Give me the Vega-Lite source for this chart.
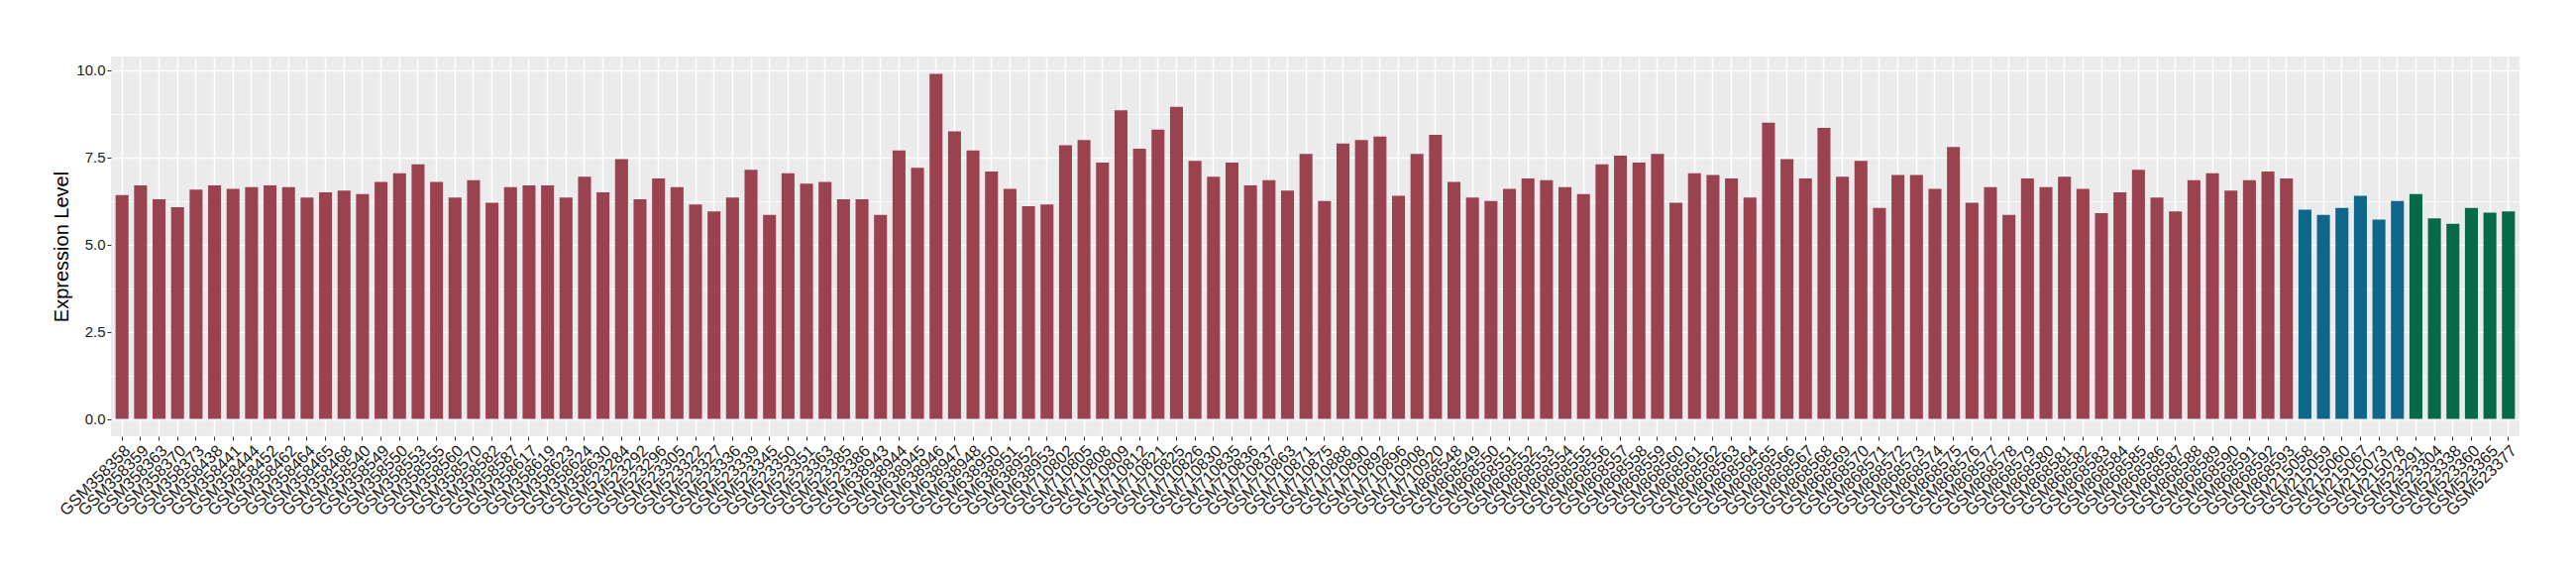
{
 "$schema": "https://vega.github.io/schema/vega-lite/v6.json",
 "width": 2431,
 "height": 383,
 "autosize": {"type": "none"},
 "padding": {"left": 112, "top": 57, "right": 57, "bottom": 140},
 "background": "white",
 "config": {"view": {"fill": "#EBEBEB", "stroke": null}, "font": "Liberation Sans"},
 "data": {"values": [
  {"sample": "GSM358358", "expression": 6.42, "group": "A"},
  {"sample": "GSM358359", "expression": 6.70, "group": "A"},
  {"sample": "GSM358363", "expression": 6.30, "group": "A"},
  {"sample": "GSM358370", "expression": 6.07, "group": "A"},
  {"sample": "GSM358373", "expression": 6.58, "group": "A"},
  {"sample": "GSM358438", "expression": 6.70, "group": "A"},
  {"sample": "GSM358441", "expression": 6.60, "group": "A"},
  {"sample": "GSM358444", "expression": 6.65, "group": "A"},
  {"sample": "GSM358452", "expression": 6.70, "group": "A"},
  {"sample": "GSM358462", "expression": 6.65, "group": "A"},
  {"sample": "GSM358464", "expression": 6.35, "group": "A"},
  {"sample": "GSM358465", "expression": 6.50, "group": "A"},
  {"sample": "GSM358468", "expression": 6.55, "group": "A"},
  {"sample": "GSM358540", "expression": 6.45, "group": "A"},
  {"sample": "GSM358549", "expression": 6.80, "group": "A"},
  {"sample": "GSM358550", "expression": 7.05, "group": "A"},
  {"sample": "GSM358553", "expression": 7.30, "group": "A"},
  {"sample": "GSM358555", "expression": 6.80, "group": "A"},
  {"sample": "GSM358560", "expression": 6.35, "group": "A"},
  {"sample": "GSM358570", "expression": 6.85, "group": "A"},
  {"sample": "GSM358582", "expression": 6.20, "group": "A"},
  {"sample": "GSM358587", "expression": 6.65, "group": "A"},
  {"sample": "GSM358617", "expression": 6.70, "group": "A"},
  {"sample": "GSM358619", "expression": 6.70, "group": "A"},
  {"sample": "GSM358623", "expression": 6.35, "group": "A"},
  {"sample": "GSM358624", "expression": 6.95, "group": "A"},
  {"sample": "GSM358630", "expression": 6.50, "group": "A"},
  {"sample": "GSM523284", "expression": 7.45, "group": "A"},
  {"sample": "GSM523292", "expression": 6.30, "group": "A"},
  {"sample": "GSM523296", "expression": 6.90, "group": "A"},
  {"sample": "GSM523305", "expression": 6.65, "group": "A"},
  {"sample": "GSM523322", "expression": 6.15, "group": "A"},
  {"sample": "GSM523327", "expression": 5.95, "group": "A"},
  {"sample": "GSM523336", "expression": 6.35, "group": "A"},
  {"sample": "GSM523339", "expression": 7.15, "group": "A"},
  {"sample": "GSM523345", "expression": 5.85, "group": "A"},
  {"sample": "GSM523350", "expression": 7.05, "group": "A"},
  {"sample": "GSM523351", "expression": 6.75, "group": "A"},
  {"sample": "GSM523363", "expression": 6.80, "group": "A"},
  {"sample": "GSM523385", "expression": 6.30, "group": "A"},
  {"sample": "GSM523386", "expression": 6.30, "group": "A"},
  {"sample": "GSM638943", "expression": 5.85, "group": "A"},
  {"sample": "GSM638944", "expression": 7.70, "group": "A"},
  {"sample": "GSM638945", "expression": 7.20, "group": "A"},
  {"sample": "GSM638946", "expression": 9.90, "group": "A"},
  {"sample": "GSM638947", "expression": 8.25, "group": "A"},
  {"sample": "GSM638948", "expression": 7.70, "group": "A"},
  {"sample": "GSM638950", "expression": 7.10, "group": "A"},
  {"sample": "GSM638951", "expression": 6.60, "group": "A"},
  {"sample": "GSM638952", "expression": 6.10, "group": "A"},
  {"sample": "GSM638953", "expression": 6.15, "group": "A"},
  {"sample": "GSM710802", "expression": 7.85, "group": "A"},
  {"sample": "GSM710805", "expression": 8.00, "group": "A"},
  {"sample": "GSM710808", "expression": 7.35, "group": "A"},
  {"sample": "GSM710809", "expression": 8.85, "group": "A"},
  {"sample": "GSM710812", "expression": 7.75, "group": "A"},
  {"sample": "GSM710821", "expression": 8.30, "group": "A"},
  {"sample": "GSM710825", "expression": 8.95, "group": "A"},
  {"sample": "GSM710826", "expression": 7.40, "group": "A"},
  {"sample": "GSM710830", "expression": 6.95, "group": "A"},
  {"sample": "GSM710835", "expression": 7.35, "group": "A"},
  {"sample": "GSM710836", "expression": 6.70, "group": "A"},
  {"sample": "GSM710837", "expression": 6.85, "group": "A"},
  {"sample": "GSM710863", "expression": 6.55, "group": "A"},
  {"sample": "GSM710871", "expression": 7.60, "group": "A"},
  {"sample": "GSM710875", "expression": 6.25, "group": "A"},
  {"sample": "GSM710888", "expression": 7.90, "group": "A"},
  {"sample": "GSM710890", "expression": 8.00, "group": "A"},
  {"sample": "GSM710892", "expression": 8.10, "group": "A"},
  {"sample": "GSM710896", "expression": 6.40, "group": "A"},
  {"sample": "GSM710908", "expression": 7.60, "group": "A"},
  {"sample": "GSM710920", "expression": 8.15, "group": "A"},
  {"sample": "GSM868548", "expression": 6.80, "group": "A"},
  {"sample": "GSM868549", "expression": 6.35, "group": "A"},
  {"sample": "GSM868550", "expression": 6.25, "group": "A"},
  {"sample": "GSM868551", "expression": 6.60, "group": "A"},
  {"sample": "GSM868552", "expression": 6.90, "group": "A"},
  {"sample": "GSM868553", "expression": 6.85, "group": "A"},
  {"sample": "GSM868554", "expression": 6.65, "group": "A"},
  {"sample": "GSM868555", "expression": 6.45, "group": "A"},
  {"sample": "GSM868556", "expression": 7.30, "group": "A"},
  {"sample": "GSM868557", "expression": 7.55, "group": "A"},
  {"sample": "GSM868558", "expression": 7.35, "group": "A"},
  {"sample": "GSM868559", "expression": 7.60, "group": "A"},
  {"sample": "GSM868560", "expression": 6.20, "group": "A"},
  {"sample": "GSM868561", "expression": 7.05, "group": "A"},
  {"sample": "GSM868562", "expression": 7.00, "group": "A"},
  {"sample": "GSM868563", "expression": 6.90, "group": "A"},
  {"sample": "GSM868564", "expression": 6.35, "group": "A"},
  {"sample": "GSM868565", "expression": 8.50, "group": "A"},
  {"sample": "GSM868566", "expression": 7.45, "group": "A"},
  {"sample": "GSM868567", "expression": 6.90, "group": "A"},
  {"sample": "GSM868568", "expression": 8.35, "group": "A"},
  {"sample": "GSM868569", "expression": 6.95, "group": "A"},
  {"sample": "GSM868570", "expression": 7.40, "group": "A"},
  {"sample": "GSM868571", "expression": 6.05, "group": "A"},
  {"sample": "GSM868572", "expression": 7.00, "group": "A"},
  {"sample": "GSM868573", "expression": 7.00, "group": "A"},
  {"sample": "GSM868574", "expression": 6.60, "group": "A"},
  {"sample": "GSM868575", "expression": 7.80, "group": "A"},
  {"sample": "GSM868576", "expression": 6.20, "group": "A"},
  {"sample": "GSM868577", "expression": 6.65, "group": "A"},
  {"sample": "GSM868578", "expression": 5.85, "group": "A"},
  {"sample": "GSM868579", "expression": 6.90, "group": "A"},
  {"sample": "GSM868580", "expression": 6.65, "group": "A"},
  {"sample": "GSM868581", "expression": 6.95, "group": "A"},
  {"sample": "GSM868582", "expression": 6.60, "group": "A"},
  {"sample": "GSM868583", "expression": 5.90, "group": "A"},
  {"sample": "GSM868584", "expression": 6.50, "group": "A"},
  {"sample": "GSM868585", "expression": 7.15, "group": "A"},
  {"sample": "GSM868586", "expression": 6.35, "group": "A"},
  {"sample": "GSM868587", "expression": 5.95, "group": "A"},
  {"sample": "GSM868588", "expression": 6.85, "group": "A"},
  {"sample": "GSM868589", "expression": 7.05, "group": "A"},
  {"sample": "GSM868590", "expression": 6.55, "group": "A"},
  {"sample": "GSM868591", "expression": 6.85, "group": "A"},
  {"sample": "GSM868592", "expression": 7.10, "group": "A"},
  {"sample": "GSM868593", "expression": 6.90, "group": "A"},
  {"sample": "GSM215058", "expression": 6.00, "group": "B"},
  {"sample": "GSM215059", "expression": 5.85, "group": "B"},
  {"sample": "GSM215060", "expression": 6.05, "group": "B"},
  {"sample": "GSM215067", "expression": 6.40, "group": "B"},
  {"sample": "GSM215073", "expression": 5.72, "group": "B"},
  {"sample": "GSM215078", "expression": 6.25, "group": "B"},
  {"sample": "GSM523291", "expression": 6.45, "group": "C"},
  {"sample": "GSM523304", "expression": 5.75, "group": "C"},
  {"sample": "GSM523338", "expression": 5.60, "group": "C"},
  {"sample": "GSM523360", "expression": 6.05, "group": "C"},
  {"sample": "GSM523365", "expression": 5.92, "group": "C"},
  {"sample": "GSM523377", "expression": 5.95, "group": "C"}
 ]},
 "mark": {"type": "bar"},
 "encoding": {
  "x": {
   "field": "sample", "type": "nominal", "sort": null,
   "scale": {"paddingInner": 0.3, "paddingOuter": 0.25},
   "axis": {
    "title": null, "bandPosition": 0.5, "domain": false,
    "grid": true, "gridColor": "white", "gridWidth": 1.5,
    "ticks": true, "tickColor": "#333333", "tickSize": 4, "tickWidth": 1,
    "labelAngle": -45, "labelAlign": "right", "labelBaseline": "top",
    "labelFontSize": 16.5, "labelColor": "#1a1a1a", "labelPadding": 2,
    "labelOverlap": false, "labelFont": "Liberation Sans"
   }
  },
  "y": {
   "field": "expression", "type": "quantitative",
   "scale": {"domain": [-0.495, 10.395], "nice": false, "zero": false},
   "axis": {
    "title": "Expression Level", "titleFontSize": 20, "titleFontWeight": "normal",
    "titleColor": "black", "titlePadding": 4, "titleFont": "Liberation Sans",
    "values": [0, 1.25, 2.5, 3.75, 5, 6.25, 7.5, 8.75, 10],
    "labelExpr": "datum.value % 2.5 === 0 ? format(datum.value, '.1f') : ''",
    "domain": false,
    "grid": true, "gridColor": "white",
    "gridWidth": {"condition": {"test": "datum.value % 2.5 === 0", "value": 1.6}, "value": 0.8},
    "tickColor": "#333333", "tickSize": 4, "tickWidth": 1,
    "tickOpacity": {"condition": {"test": "datum.value % 2.5 === 0", "value": 1}, "value": 0},
    "labelFontSize": 15, "labelColor": "#1a1a1a", "labelPadding": 2, "labelFont": "Liberation Sans"
   }
  },
  "y2": {"datum": 0},
  "color": {
   "field": "group", "type": "nominal",
   "scale": {"domain": ["A", "B", "C"], "range": ["#9A4250", "#0E668A", "#05694A"]},
   "legend": null
  }
 }
}
